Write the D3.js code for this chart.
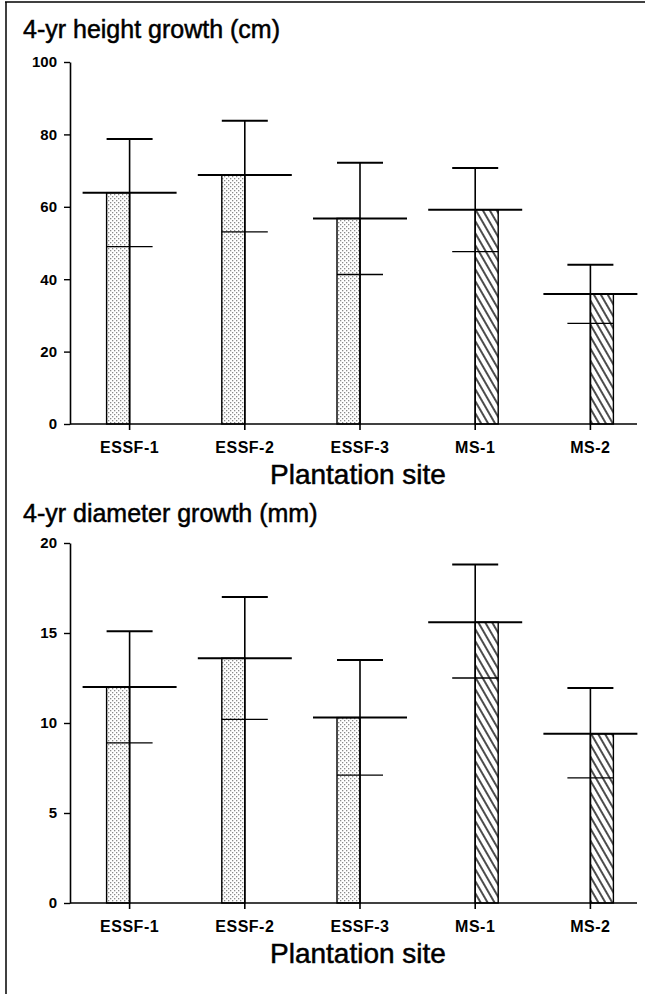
<!DOCTYPE html>
<html>
<head>
<meta charset="utf-8">
<script src="https://cdn.jsdelivr.net/npm/d3@7"></script>
<style>
  body { margin: 0; background: #fff; }
  svg { display: block; }
</style>
</head>
<body>
<script>
// Plantation sites and the zone each belongs to
const sites = ["ESSF-1", "ESSF-2", "ESSF-3", "MS-1", "MS-2"];
const zones = ["ESSF", "ESSF", "ESSF", "MS", "MS"];

// 4-yr height growth (cm): mean and error bar ends
const heightMean  = [63.9, 68.8, 56.8, 59.2, 35.9];
const heightUpper = [78.7, 83.8, 72.2, 70.7, 44.0];
const heightLower = [49.0, 53.1, 41.3, 47.6, 27.8];
const heightTicks = [0, 20, 40, 60, 80, 100];

// 4-yr diameter growth (mm)
const diamMean  = [12.0, 13.6, 10.3, 15.6, 9.4];
const diamUpper = [15.1, 17.0, 13.5, 18.8, 11.95];
const diamLower = [8.9, 10.2, 7.1, 12.5, 6.95];
const diamTicks = [0, 5, 10, 15, 20];

const W = 645, H = 994;
const font = "'Liberation Sans', Arial, Helvetica, sans-serif";

const svg = d3.select("body").append("svg")
  .attr("width", W)
  .attr("height", H)
  .style("font-family", font);

// fill patterns: stipple for ESSF, diagonal hatch for MS
const defs = svg.append("defs");
const dots = defs.append("pattern")
  .attr("id", "dots")
  .attr("patternUnits", "userSpaceOnUse")
  .attr("width", 4).attr("height", 4);
dots.append("rect").attr("width", 4).attr("height", 4).attr("fill", "#fff");
dots.append("rect").attr("x", 0).attr("y", 0).attr("width", 1.3).attr("height", 1.3).attr("fill", "#8a8a8a");
dots.append("rect").attr("x", 2).attr("y", 2).attr("width", 1.3).attr("height", 1.3).attr("fill", "#8a8a8a");

const hatch = defs.append("pattern")
  .attr("id", "hatch")
  .attr("patternUnits", "userSpaceOnUse")
  .attr("width", 6).attr("height", 6)
  .attr("patternTransform", "rotate(-30)");
hatch.append("rect").attr("width", 6).attr("height", 6).attr("fill", "#fff");
hatch.append("line")
  .attr("x1", 1).attr("y1", 0).attr("x2", 1).attr("y2", 6)
  .attr("stroke", "#000").attr("stroke-width", 1.4);

const fills = { ESSF: "url(#dots)", MS: "url(#hatch)" };

// outer frame of the scanned figure
svg.append("line").attr("x1", 5).attr("y1", 2).attr("x2", W).attr("y2", 2)
  .attr("stroke", "#000").attr("stroke-width", 1.5);
svg.append("line").attr("x1", 6).attr("y1", 2).attr("x2", 6).attr("y2", H)
  .attr("stroke", "#000").attr("stroke-width", 1.5);

const x = d3.scaleBand().domain(sites).range([72, 648]);
const xSub = d3.scaleBand().domain(["ESSF", "MS"]).range([-23, 23]);
const axisX = 70;

function drawPanel(cfg) {
  const y = d3.scaleLinear().domain([0, cfg.max]).range([cfg.bottom, cfg.top]);
  const g = svg.append("g");

  g.append("text")
    .attr("x", 23).attr("y", cfg.titleY)
    .attr("font-size", 25)
    .attr("stroke", "#000").attr("stroke-width", 0.5)
    .text(cfg.title);

  // y axis
  const ya = g.append("g")
    .attr("transform", `translate(${axisX},0)`)
    .call(d3.axisLeft(y).tickValues(cfg.ticks).tickSize(6).tickSizeOuter(0).tickPadding(7));
  ya.select(".domain").attr("stroke-width", 1.6);
  ya.selectAll(".tick line").attr("stroke-width", 1.4);
  ya.selectAll(".tick text")
    .attr("font-family", font).attr("font-size", 15).attr("font-weight", "bold").attr("fill", "#000");

  const rows = sites.map((s, i) => ({
    site: s, zone: zones[i], mean: cfg.mean[i], hi: cfg.upper[i], lo: cfg.lower[i]
  }));

  // bars
  g.selectAll("rect.bar").data(rows).join("rect")
    .attr("class", "bar")
    .attr("x", d => x(d.site) + x.bandwidth() / 2 + xSub(d.zone))
    .attr("y", d => y(d.mean))
    .attr("width", xSub.bandwidth())
    .attr("height", d => y(0) - y(d.mean))
    .attr("fill", d => fills[d.zone])
    .attr("stroke", "#000")
    .attr("stroke-width", 1.4);

  const cx = d => x(d.site) + x.bandwidth() / 2;

  // whisker
  g.selectAll("line.whisk").data(rows).join("line")
    .attr("x1", cx).attr("x2", cx)
    .attr("y1", y(0)).attr("y2", d => y(d.hi))
    .attr("stroke", "#000").attr("stroke-width", 1.6);

  // upper and lower caps
  g.selectAll("line.hi").data(rows).join("line")
    .attr("x1", d => cx(d) - 23).attr("x2", d => cx(d) + 23)
    .attr("y1", d => y(d.hi)).attr("y2", d => y(d.hi))
    .attr("stroke", "#000").attr("stroke-width", 2);
  g.selectAll("line.lo").data(rows).join("line")
    .attr("x1", d => cx(d) - 23).attr("x2", d => cx(d) + 23)
    .attr("y1", d => y(d.lo)).attr("y2", d => y(d.lo))
    .attr("stroke", "#000").attr("stroke-width", 1.3);

  // mean line
  g.selectAll("line.mean").data(rows).join("line")
    .attr("x1", d => cx(d) - 47).attr("x2", d => cx(d) + 47)
    .attr("y1", d => y(d.mean)).attr("y2", d => y(d.mean))
    .attr("stroke", "#000").attr("stroke-width", 2);

  // x axis
  const xa = g.append("g")
    .attr("transform", `translate(0,${cfg.bottom})`)
    .call(d3.axisBottom(x).tickSize(6).tickSizeOuter(0).tickPadding(12));
  xa.select(".domain").remove();
  xa.selectAll(".tick line").attr("stroke-width", 1.6);
  xa.selectAll(".tick text")
    .attr("font-family", font).attr("font-size", 16).attr("font-weight", "bold")
    .attr("letter-spacing", 0.5).attr("fill", "#000");
  g.append("line")
    .attr("x1", axisX).attr("x2", 637)
    .attr("y1", cfg.bottom).attr("y2", cfg.bottom)
    .attr("stroke", "#000").attr("stroke-width", 1.6);

  g.append("text")
    .attr("x", 358).attr("y", cfg.bottom + 60)
    .attr("text-anchor", "middle")
    .attr("font-size", 28)
    .attr("stroke", "#000").attr("stroke-width", 0.5)
    .text("Plantation site");
}

drawPanel({
  title: "4-yr height growth (cm)", titleY: 38,
  top: 62, bottom: 424, max: 100, ticks: heightTicks,
  mean: heightMean, upper: heightUpper, lower: heightLower
});

drawPanel({
  title: "4-yr diameter growth (mm)", titleY: 522,
  top: 543, bottom: 903, max: 20, ticks: diamTicks,
  mean: diamMean, upper: diamUpper, lower: diamLower
});
</script>
</body>
</html>
